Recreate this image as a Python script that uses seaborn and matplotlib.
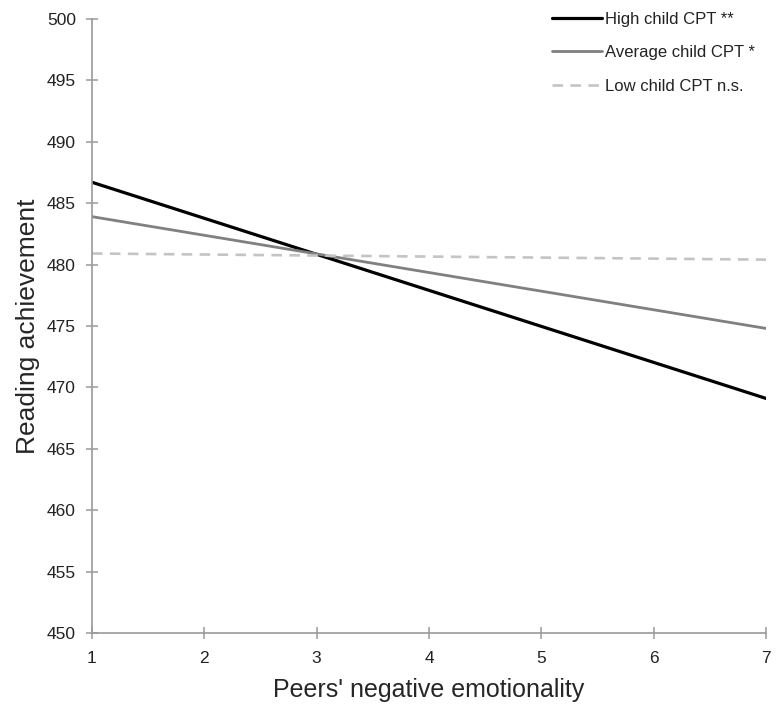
"""
Simple slopes plot: reading achievement vs peers' negative emotionality,
split by child CPT level.
"""

import pandas as pd
import matplotlib
matplotlib.use("Agg")
import matplotlib.pyplot as plt
import seaborn as sns

# values
peer_emotionality = [1, 7]
high_cpt = [486.7, 469.1]
average_cpt = [483.9, 474.8]
low_cpt = [480.9, 480.4]

series_labels = ["High child CPT **", "Average child CPT *", "Low child CPT n.s."]
y_ticks = [450, 455, 460, 465, 470, 475, 480, 485, 490, 495, 500]
x_ticks = [1, 2, 3, 4, 5, 6, 7]

sns.set_theme(style="white")
plt.rcParams["font.family"] = ["Liberation Sans", "DejaVu Sans"]

df = pd.DataFrame({
    "x": peer_emotionality * 3,
    "y": high_cpt + average_cpt + low_cpt,
    "group": [series_labels[0]] * 2 + [series_labels[1]] * 2 + [series_labels[2]] * 2,
})

fig = plt.figure(figsize=(7.82, 7.04), dpi=100)
ax = fig.add_axes([0.1176, 0.1009, 0.8619, 0.8722])

palette = {series_labels[0]: "#000000", series_labels[1]: "#808080", series_labels[2]: "#c4c4c4"}
dashes = {series_labels[0]: "", series_labels[1]: "", series_labels[2]: (4, 2.8)}
sizes = {series_labels[0]: 2.3, series_labels[1]: 2.0, series_labels[2]: 1.9}

sns.lineplot(data=df, x="x", y="y", hue="group", style="group", size="group",
             palette=palette, dashes=dashes, sizes=sizes, ax=ax,
             hue_order=series_labels, style_order=series_labels, size_order=series_labels)

ax.set_xlim(1, 7)
ax.set_ylim(450, 500)
ax.set_xticks(x_ticks)
ax.set_yticks(y_ticks)
ax.set_xlabel("Peers' negative emotionality", fontsize=18, labelpad=8)
ax.set_ylabel("Reading achievement", fontsize=19, labelpad=5)

for side in ["top", "right"]:
    ax.spines[side].set_visible(False)
for side in ["left", "bottom"]:
    ax.spines[side].set_color("#9a9a9a")
    ax.spines[side].set_linewidth(1.2)

ax.tick_params(axis="both", direction="inout", length=8, width=1.1,
               color="#9a9a9a", labelsize=12.5, labelcolor="#222222")
ax.tick_params(axis="x", pad=9.3)
ax.tick_params(axis="y", pad=7.5)
ax.tick_params(left=True, bottom=True)

leg = ax.legend(loc="upper left", bbox_to_anchor=(0.6825, 1.0115), frameon=False,
                fontsize=12, handlelength=3.0, handletextpad=0.2, labelspacing=1.1,
                borderaxespad=0, borderpad=0)
for text in leg.get_texts():
    text.set_color("#222222")

plt.savefig("out.png", dpi=100)
plt.close()
